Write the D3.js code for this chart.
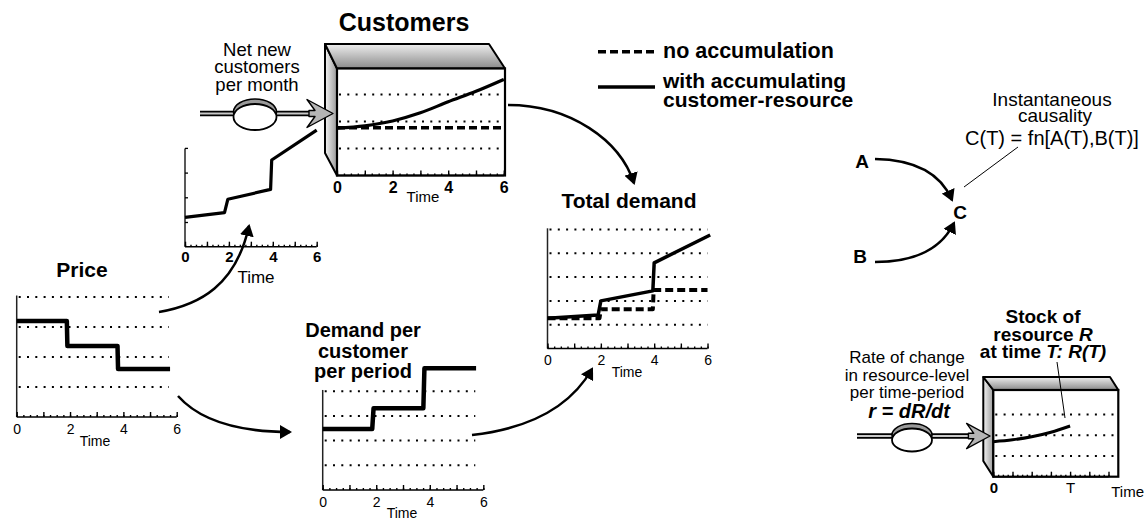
<!DOCTYPE html>
<html>
<head>
<meta charset="utf-8">
<script src="https://cdn.jsdelivr.net/npm/d3@7"></script>
<style>
  body { margin: 0; background: #fff; }
  svg { display: block; font-family: "Liberation Sans", Arial, Helvetica, sans-serif; }
  .grid { stroke: #000; stroke-width: 2; stroke-dasharray: 2 6.3; fill: none; }
  .arrow { fill: none; stroke: #000; stroke-width: 2.5; }
  .leader { stroke: #000; stroke-width: 1; }
</style>
</head>
<body>
<svg id="chart" width="1145" height="521"></svg>
<script>
// ---- data (time in periods, levels in gridline units) ----
const TIME_TICKS = [0, 1, 2, 3, 4, 5, 6];
const TIME_LABELS = [0, 2, 4, 6];

// Price: steps down at ~2 and ~4
const priceTime  = [0, 1.88, 1.9, 3.78, 3.8, 5.75];
const priceLevel = [3.2, 3.2, 2.37, 2.37, 1.6, 1.6];

// Demand per customer per period: steps up at ~2 and ~4
const demandTime  = [0, 1.85, 1.9, 3.76, 3.8, 5.73];
const demandLevel = [2.47, 2.47, 3.31, 3.31, 4.93, 4.93];

// Total demand, with accumulating customers
const totalTime  = [0, 1.9, 2.0, 3.95, 4.0, 6.1];
const totalLevel = [1.27, 1.41, 2.0, 2.42, 3.6, 4.77];
// Total demand, no accumulation
const flatTotalTime  = [0, 1.95, 2.0, 3.95, 3.98, 6.0];
const flatTotalLevel = [1.27, 1.27, 1.65, 1.65, 2.46, 2.46];

// small chart beside the customer stock
const smallTime  = [0, 1.8, 1.95, 3.9, 3.95, 6.0];
const smallLevel = [1.19, 1.38, 1.92, 2.32, 3.51, 4.72];
const SMALL_Y_TICKS = [1, 2, 3, 4];

// Customers stock
const custTime  = [0, 1, 2, 3, 4, 5, 6];
const custLevel = [1.75, 1.84, 2.02, 2.32, 2.73, 3.12, 3.56];
const custFlat  = [1.77, 1.77, 1.77, 1.77, 1.77, 1.77, 1.77];

// Stock of resource R up to time T
const stockTime  = [0, 1, 2, 3, 4];
const stockLevel = [1.69, 1.78, 1.93, 2.15, 2.45];
const STOCK_LABELS = { 0: '0', 4: 'T' };

const svg = d3.select('#chart');
const defs = svg.append('defs');

defs.append('marker')
  .attr('id', 'ah').attr('viewBox', '0 0 12 14')
  .attr('refX', 10).attr('refY', 7)
  .attr('markerWidth', 12).attr('markerHeight', 14)
  .attr('markerUnits', 'userSpaceOnUse').attr('orient', 'auto')
  .append('path').attr('d', 'M0,0 L12,7 L0,14 Z').attr('fill', '#000');

const gTop = defs.append('linearGradient').attr('id', 'gTop').attr('x1', 0).attr('y1', 0).attr('x2', 0).attr('y2', 1);
gTop.append('stop').attr('offset', '0%').attr('stop-color', '#eeeeee');
gTop.append('stop').attr('offset', '100%').attr('stop-color', '#8a8a8a');
const gSide = defs.append('linearGradient').attr('id', 'gSide').attr('x1', 0).attr('y1', 0).attr('x2', 1).attr('y2', 0);
gSide.append('stop').attr('offset', '0%').attr('stop-color', '#f4f4f4');
gSide.append('stop').attr('offset', '100%').attr('stop-color', '#9a9a9a');

function txt(x, y, s, size, opts = {}) {
  return svg.append('text')
    .attr('x', x).attr('y', y)
    .attr('text-anchor', opts.anchor || 'middle')
    .attr('font-size', size)
    .attr('font-weight', opts.bold ? 'bold' : 'normal')
    .attr('font-style', opts.italic ? 'italic' : 'normal')
    .text(s);
}

function lines(x, y0, step, arr, size, opts) {
  arr.forEach((s, i) => txt(x, y0 + i * step, s, size, opts));
}

// generic small time chart
function panel(p) {
  const x = d3.scaleLinear().domain([0, 6]).range([p.x0, p.x0 + 6 * p.dx]);
  const y = d3.scaleLinear().domain([0, 1]).range([p.y0, p.y0 - p.dy]);
  const g = svg.append('g');

  if (p.grid) {
    p.grid.forEach(k => {
      g.append('line').attr('class', 'grid')
        .attr('x1', x(0) + 2).attr('x2', x(p.gridEnd))
        .attr('y1', y(k)).attr('y2', y(k));
    });
  }
  if (p.yTop) {
    const ya = g.append('g').attr('transform', `translate(${p.x0},0)`)
      .call(d3.axisLeft(y).tickValues(p.yTicks || []).tickSize(-3).tickSizeOuter(0).tickFormat(''));
    ya.select('.domain').attr('d', `M0,${y(0)}V${y(p.yTop)}`).attr('stroke', '#222').attr('stroke-width', 1.5);
    ya.selectAll('.tick line').attr('stroke-width', 1.3);
  }
  // minor ticks
  g.append('g').attr('transform', `translate(0,${p.y0})`)
    .call(d3.axisBottom(x).tickValues(d3.range(0, 6.01, 0.25)).tickSize(-2).tickFormat(''))
    .call(a => a.select('.domain').remove())
    .selectAll('line').attr('stroke-width', 1.4);
  // major ticks + labels
  const xa = g.append('g').attr('transform', `translate(0,${p.y0})`)
    .call(d3.axisBottom(x).tickValues(TIME_TICKS).tickSize(-5).tickSizeOuter(0)
      .tickFormat(p.fmt || (d => TIME_LABELS.includes(d) ? d : '')));
  xa.select('.domain').attr('stroke-width', 1.6).attr('d', `M${x(0)},0H${x(6)}`);
  xa.selectAll('.tick line').attr('stroke-width', 1.4);
  xa.selectAll('text')
    .attr('y', p.labelY).attr('dy', 0)
    .attr('font-family', null)
    .attr('font-size', p.labelSize)
    .attr('font-weight', p.labelBold ? 'bold' : 'normal');
  if (p.time) txt(p.time[0], p.time[1], 'Time', p.time[2], { anchor: p.time[3] || 'middle' });
  return { x, y, g };
}

function series(pn, ts, vs, width, dash) {
  const line = d3.line().x(d => pn.x(d[0])).y(d => pn.y(d[1]));
  return pn.g.append('path')
    .datum(d3.zip(ts, vs))
    .attr('d', line)
    .attr('fill', 'none').attr('stroke', '#000')
    .attr('stroke-width', width)
    .attr('stroke-linejoin', 'round')
    .attr('stroke-dasharray', dash || null);
}

function smoothSeries(pn, ts, vs, width, dash) {
  const line = d3.line().curve(d3.curveMonotoneX).x(d => pn.x(d[0])).y(d => pn.y(d[1]));
  return pn.g.append('path')
    .datum(d3.zip(ts, vs))
    .attr('d', line)
    .attr('fill', 'none').attr('stroke', '#000')
    .attr('stroke-width', width)
    .attr('stroke-dasharray', dash || null);
}

// 3D stock box
function box(b) {
  svg.append('path')
    .attr('d', `M${b.bx},${b.by}L${b.fx},${b.fy}L${b.fx},${b.fb}L${b.bx},${b.bb}Z`)
    .attr('fill', 'url(#gSide)').attr('stroke', '#000').attr('stroke-width', 2).attr('stroke-linejoin', 'round');
  svg.append('path')
    .attr('d', `M${b.bx},${b.by}L${b.br},${b.by}L${b.fr},${b.fy}L${b.fx},${b.fy}Z`)
    .attr('fill', 'url(#gTop)').attr('stroke', '#000').attr('stroke-width', 2).attr('stroke-linejoin', 'round');
  svg.append('rect')
    .attr('x', b.fx).attr('y', b.fy).attr('width', b.fr - b.fx).attr('height', b.fb - b.fy)
    .attr('fill', '#fff').attr('stroke', '#000').attr('stroke-width', 2.2);
}

// flow pipe with valve and arrow head
function flow(f) {
  svg.append('line').attr('x1', f.x1).attr('x2', f.tip - 20).attr('y1', f.y).attr('y2', f.y)
    .attr('stroke', '#000').attr('stroke-width', 5.5);
  svg.append('line').attr('x1', f.x1).attr('x2', f.tip - 18).attr('y1', f.y).attr('y2', f.y)
    .attr('stroke', '#c8c8c8').attr('stroke-width', 2);
  svg.append('ellipse').attr('cx', f.cx).attr('cy', f.cy - 5).attr('rx', f.rx).attr('ry', f.ry)
    .attr('fill', '#9a9a9a').attr('stroke', '#000').attr('stroke-width', 1.6);
  svg.append('ellipse').attr('cx', f.cx).attr('cy', f.cy).attr('rx', f.rx).attr('ry', f.ry)
    .attr('fill', '#fff').attr('stroke', '#000').attr('stroke-width', 1.8);
  const t = f.tip, y = f.y, s = f.s;
  const pts = [[0, 0], [-26, -14], [-18, -3], [-24, -3], [-24, 3], [-18, 3], [-26, 14]]
    .map(([a, b]) => [t + a * s, y + b * s]);
  svg.append('path').attr('d', 'M' + pts.map(p => p.join(',')).join('L') + 'Z')
    .attr('fill', '#b5b5b5').attr('stroke', '#000').attr('stroke-width', 1.4).attr('stroke-linejoin', 'round');
}

// ---------------- Price ----------------
txt(82, 277, 'Price', 21, { bold: true });
const pPrice = panel({ x0: 16.7, y0: 417, dx: 26.67, dy: 30, grid: [1, 2, 3, 4], gridEnd: 5.7,
  yTop: 4.05, labelY: 16.5, labelSize: 14, time: [95, 446, 14] });
series(pPrice, priceTime, priceLevel, 4.5);

// ---------------- Demand per customer ----------------
lines(363, 337, 20.5, ['Demand per', 'customer', 'per period'], 20, { bold: true });
const pDemand = panel({ x0: 322.7, y0: 490, dx: 26.77, dy: 24.7, grid: [1, 2, 3, 4], gridEnd: 5.7,
  yTop: 4.05, labelY: 16.5, labelSize: 14, time: [402, 518, 14] });
series(pDemand, demandTime, demandLevel, 4.5);

// ---------------- Total demand ----------------
txt(629, 208, 'Total demand', 21, { bold: true });
const pTotal = panel({ x0: 547.5, y0: 348.5, dx: 26.67, dy: 23.8, grid: [1, 2, 3, 4, 5], gridEnd: 6,
  yTop: 5.05, labelY: 16.5, labelSize: 14, time: [627, 377, 14] });
series(pTotal, flatTotalTime, flatTotalLevel, 4, '8 4');
series(pTotal, totalTime, totalLevel, 3.5);

// ---------------- small chart next to the stock ----------------
const pSmall = panel({ x0: 185, y0: 246.7, dx: 21.95, dy: 24.7, yTop: 3.98, yTicks: SMALL_Y_TICKS,
  labelY: 15, labelSize: 15, labelBold: true, time: [256, 283, 17] });
series(pSmall, smallTime, smallLevel, 3.2);

// ---------------- Customers stock ----------------
txt(404, 31, 'Customers', 25, { bold: true });
lines(257, 56, 17.3, ['Net new', 'customers', 'per month'], 18.5);
box({ bx: 325, by: 44, br: 489, fx: 337, fy: 68.5, fr: 505, fb: 175.5, bb: 153 });
const pCust = panel({ x0: 337, y0: 175.5, dx: 27.8, dy: 27, grid: [1, 2, 3], gridEnd: 6,
  labelY: 17.5, labelSize: 16, labelBold: true, time: [423, 202, 15] });
smoothSeries(pCust, custTime, custFlat, 3.5, '8 4');
smoothSeries(pCust, custTime, custLevel, 3.2);
flow({ x1: 200, y: 113.5, cx: 255, cy: 117, rx: 21.5, ry: 13, tip: 333, s: 1 });

// ---------------- legend ----------------
svg.append('line').attr('x1', 598).attr('x2', 655).attr('y1', 51.7).attr('y2', 51.7)
  .attr('stroke', '#000').attr('stroke-width', 3.5).attr('stroke-dasharray', '8 4');
txt(663, 58, 'no accumulation', 21.5, { bold: true, anchor: 'start' });
svg.append('line').attr('x1', 598).attr('x2', 655).attr('y1', 87).attr('y2', 87)
  .attr('stroke', '#000').attr('stroke-width', 3.5);
lines(663, 87.5, 19, ['with accumulating', 'customer-resource'], 21, { bold: true, anchor: 'start' });

// ---------------- arrows between charts ----------------
const arrows = [
  'M159,312 C200,305 236,285 249,226',
  'M178,396 Q210,432 290,432',
  'M472,435 Q560,425 592,369',
  'M508,105 C570,105 620,140 634,183',
  'M875,159 Q935,160 952,200',
  'M875,262 Q935,262 954,223'
];
svg.selectAll('.arrow').data(arrows).join('path')
  .attr('class', 'arrow').attr('d', d => d).attr('marker-end', 'url(#ah)');

// ---------------- instantaneous causality ----------------
txt(862, 168, 'A', 19, { bold: true });
txt(960, 219, 'C', 19, { bold: true });
txt(860, 263, 'B', 19, { bold: true });
txt(1052, 106, 'Instantaneous', 19);
txt(1055, 122, 'causality', 19);
txt(1052, 145, 'C(T) = fn[A(T),B(T)]', 20);
svg.append('line').attr('class', 'leader').attr('x1', 1018).attr('y1', 147).attr('x2', 964).attr('y2', 187);

// ---------------- stock of resource R ----------------
txt(1043, 323, 'Stock of', 19, { bold: true });
const l2 = txt(1043, 341, 'resource ', 19, { bold: true });
l2.append('tspan').attr('font-style', 'italic').text('R');
const l3 = txt(1043, 358, 'at time ', 19, { bold: true });
l3.append('tspan').attr('font-style', 'italic').text('T: R(T)');
lines(907, 363, 17.5, ['Rate of change', 'in resource-level', 'per time-period'], 17);
txt(909, 418, 'r = dR/dt', 20, { bold: true, italic: true });

box({ bx: 983.3, by: 377, br: 1110, fx: 993.3, fy: 390, fr: 1118.3, fb: 476.7, bb: 461 });
const pStock = panel({ x0: 993.3, y0: 476.7, dx: 19.2, dy: 20.7, grid: [1, 2, 3], gridEnd: 6.45,
  labelY: 16.5, labelSize: 15, fmt: d => STOCK_LABELS[d] || '', time: [1144, 497, 15, 'end'] });
pStock.g.selectAll('text').filter(function () { return this.textContent === '0'; }).attr('font-weight', 'bold');
smoothSeries(pStock, stockTime, stockLevel, 3);
flow({ x1: 857, y: 436, cx: 912, cy: 440, rx: 20, ry: 11.5, tip: 990, s: 0.9 });
svg.append('line').attr('class', 'leader').attr('x1', 1057).attr('y1', 362).attr('x2', 1065).attr('y2', 418);
</script>
</body>
</html>
